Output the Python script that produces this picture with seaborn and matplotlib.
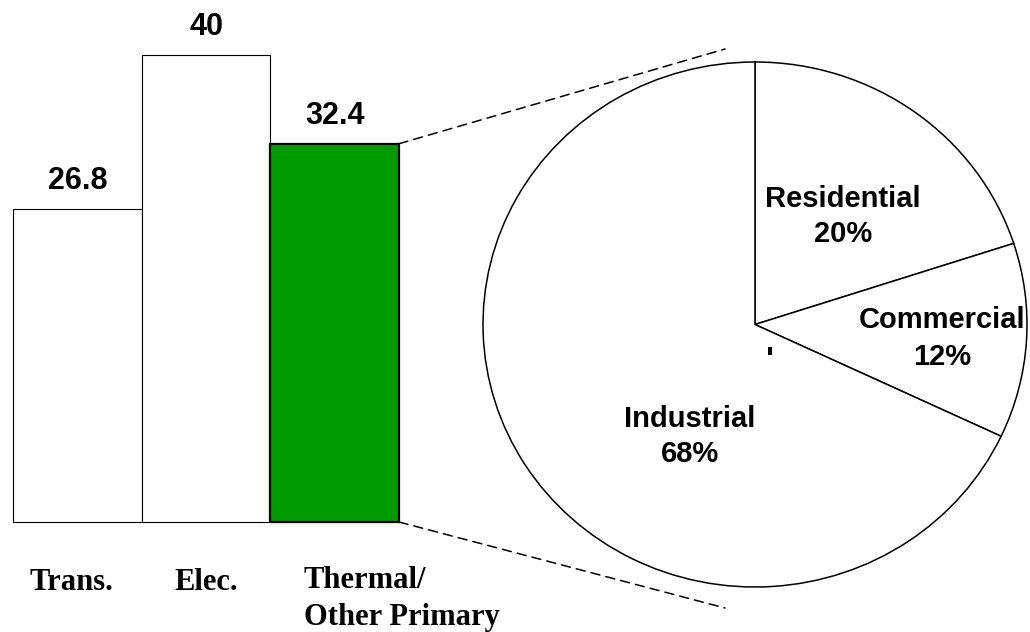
import matplotlib
matplotlib.use("Agg")
import matplotlib.pyplot as plt
import seaborn as sns
import pandas as pd
from matplotlib.patches import ConnectionPatch

# ---- data ----
categories = ["Trans.", "Elec.", "Thermal/\nOther Primary"]
values = [26.8, 40, 32.4]
value_labels = ["26.8", "40", "32.4"]
bar_colors = ["#ffffff", "#ffffff", "#009900"]

pie_names = ["Residential", "Commercial", "Industrial"]
pie_shares = [20, 12, 68]

sns.set_style("white")
plt.rcParams["font.family"] = ["Liberation Sans", "DejaVu Sans"]
plt.rcParams["text.color"] = "black"

W, H = 1030, 632
fig = plt.figure(figsize=(W / 100, H / 100), dpi=100)
fig.patch.set_facecolor("white")

def fx(px):
    return px / W

def fy(py):
    return 1 - py / H

# ---- bar chart ----
ax1 = fig.add_axes([fx(13), fy(522), fx(399) - fx(13), fy(55) - fy(522)])
df = pd.DataFrame({"cat": categories, "val": values})
sns.barplot(data=df, x="cat", y="val", hue="cat", palette=bar_colors,
            width=1.0, edgecolor="black", linewidth=0.8, legend=False,
            ax=ax1, saturation=1)
ax1.set_xlim(-0.5, 2.5)
ax1.set_ylim(0, 40)
ax1.axis("off")
for p in ax1.patches:
    p.set_clip_on(False)
ax1.patches[2].set_linewidth(1.6)

for i, (v, lab) in enumerate(zip(values, value_labels)):
    ax1.annotate(lab, (i, v), xytext=(0, 20), textcoords="offset pixels",
                 ha="center", va="baseline", fontsize=22, fontweight="bold",
                 color="black", annotation_clip=False)

# category labels (Times-like bold)
serif = ["Liberation Serif", "DejaVu Serif"]
fig.text(fx(71), fy(590), categories[0], ha="center", va="baseline",
         fontsize=22, fontweight="bold", family=serif, color="black")
fig.text(fx(206), fy(590), categories[1], ha="center", va="baseline",
         fontsize=22, fontweight="bold", family=serif, color="black")
l1, l2 = categories[2].split("\n")
fig.text(fx(304), fy(588), l1, ha="left", va="baseline",
         fontsize=22, fontweight="bold", family=serif, color="black")
fig.text(fx(304), fy(625), l2, ha="left", va="baseline",
         fontsize=22, fontweight="bold", family=serif, color="black")

# ---- pie chart ----
cx, cy, rx, ry = 755, 324.5, 272, 262.5
ax2 = fig.add_axes([fx(cx - rx), fy(cy + ry), fx(2 * rx), fy(cy - ry) - fy(cy + ry)])
wedges, _ = ax2.pie(pie_shares, startangle=90, counterclock=False,
                    colors=["white"] * len(pie_shares),
                    wedgeprops=dict(edgecolor="black", linewidth=1.1))
for w in wedges:
    w.set_clip_on(False)
ax2.set_aspect("auto")
ax2.set_xlim(-1, 1)
ax2.set_ylim(-1, 1)
ax2.axis("off")

def px2d(x, y):
    return ((x - cx) / rx, (cy - y) / ry)

label_pos = {"Residential": (843, 207, 242),
             "Commercial": (942, 328, 365),
             "Industrial": (690, 427, 462)}
for name, share in zip(pie_names, pie_shares):
    x, y1, y2 = label_pos[name]
    ax2.text(*px2d(x, y1), name, ha="center", va="baseline",
             fontsize=21, fontweight="bold", color="black")
    ax2.text(*px2d(x, y2), f"{share}%", ha="center", va="baseline",
             fontsize=21, fontweight="bold", color="black")

ax2.text(*px2d(770, 370), "'", ha="center", va="baseline",
         fontsize=24, fontweight="bold", color="black")

# ---- dashed connectors ----
for ya, pb in [(values[2], px2d(725, 49)), (0, px2d(725, 608))]:
    con = ConnectionPatch(xyA=(2.5, ya), coordsA=ax1.transData,
                          xyB=pb, coordsB=ax2.transData,
                          color="black", linestyle=(0, (6, 4)), linewidth=1.1)
    fig.add_artist(con)

fig.savefig("out.png", dpi=100, facecolor="white")
